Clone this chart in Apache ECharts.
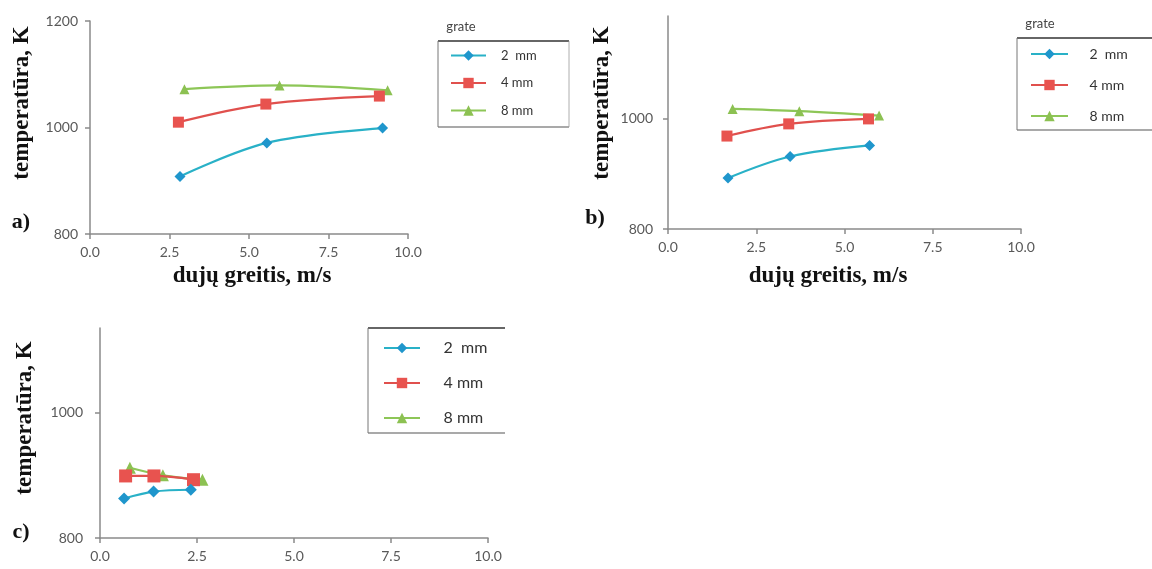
<!DOCTYPE html>
<html>
<head>
<meta charset="utf-8">
<script src="https://cdn.jsdelivr.net/npm/echarts@6/dist/echarts.min.js"></script>
<style>
  html, body { margin: 0; padding: 0; background: #fff; }
  #chart { width: 1152px; height: 569px; }
</style>
</head>
<body>
<div id="chart"></div>
<script>
// grate sizes (legend names)
const grateNames = ['2  mm', '4 mm', '8 mm'];
const xTickLabels = ['0.0', '2.5', '5.0', '7.5', '10.0'];

// panel a)
const aSpeed2 = [2.83, 5.56, 9.2];
const aTemp2 = [908, 971, 999];
const aSpeed4 = [2.78, 5.53, 9.1];
const aTemp4 = [1010, 1044, 1059];
const aSpeed8 = [2.97, 5.96, 9.36];
const aTemp8 = [1072, 1079, 1070];

// panel b)
const bSpeed2 = [1.70, 3.46, 5.71];
const bTemp2 = [892, 931, 951];
const bSpeed4 = [1.67, 3.42, 5.68];
const bTemp4 = [968, 990, 999];
const bSpeed8 = [1.83, 3.72, 5.98];
const bTemp8 = [1017, 1013, 1005];

// panel c)
const cSpeed2 = [0.62, 1.38, 2.34];
const cTemp2 = [863, 874, 877];
const cSpeed4 = [0.66, 1.39, 2.41];
const cTemp4 = [899, 899, 893];
const cSpeed8 = [0.77, 1.62, 2.64];
const cTemp8 = [912, 900, 893];

const pairs = (xs, ys) => xs.map((x, i) => [x, ys[i]]);

const lineColors = ['#29b1c7', '#e0504d', '#8dc657'];
const markColors = ['#1f96cc', '#e8534f', '#8cc152'];
const symbols = ['diamond', 'rect', 'triangle'];
const symbolSizes = [[11, 11, 10], [11, 11, 10], [12, 13, 12]];

const panels = [
  [pairs(aSpeed2, aTemp2), pairs(aSpeed4, aTemp4), pairs(aSpeed8, aTemp8)],
  [pairs(bSpeed2, bTemp2), pairs(bSpeed4, bTemp4), pairs(bSpeed8, bTemp8)],
  [pairs(cSpeed2, cTemp2), pairs(cSpeed4, cTemp4), pairs(cSpeed8, cTemp8)]
];

const axisGray = '#8a8a8a';
const labelGray = '#595959';
const tickFont = 'Lato, "Open Sans", sans-serif';
const serif = '"Liberation Serif", "DejaVu Serif", serif';

function xAxisFor(gridIndex) {
  return {
    type: 'value', gridIndex: gridIndex, min: 0, max: 10, interval: 2.5,
    splitLine: { show: false },
    axisLine: { lineStyle: { color: axisGray, width: 1.5 } },
    axisTick: { length: 5, lineStyle: { color: axisGray, width: 1.5 } },
    axisLabel: {
      margin: 11, color: labelGray, fontSize: 14, fontFamily: tickFont,
      formatter: v => xTickLabels[Math.round(v / 2.5)]
    }
  };
}
function yAxisFor(gridIndex, max, showMax, margin) {
  return {
    type: 'value', gridIndex: gridIndex, min: 800, max: max, interval: 200,
    splitLine: { show: false },
    axisLine: { show: true, lineStyle: { color: axisGray, width: 1.5 } },
    axisTick: { show: true, length: 5, lineStyle: { color: axisGray, width: 1.5 } },
    axisLabel: {
      margin: margin, color: labelGray, fontSize: 14, fontFamily: tickFont,
      showMaxLabel: showMax, formatter: v => String(v)
    }
  };
}

const series = [];
panels.forEach((panel, p) => {
  panel.forEach((data, k) => {
    series.push({
      name: grateNames[k], type: 'line', xAxisIndex: p, yAxisIndex: p,
      data: data, smooth: 0.35, symbol: symbols[k], symbolSize: symbolSizes[p][k],
      lineStyle: { color: lineColors[k], width: 2.2 },
      itemStyle: { color: markColors[k] },
      z: 3 - k
    });
  });
});

function legendFor(left, top, itemWidth, gap, fontSize, pad) {
  return {
    orient: 'vertical', left: left, top: top, padding: 0, itemWidth: itemWidth, itemHeight: 13,
    itemGap: gap, data: grateNames, selectedMode: false,
    textStyle: { fontSize: fontSize, fontFamily: tickFont, color: '#333', padding: [0, 0, 0, pad] }
  };
}

function yTitle(x, y, size) {
  return {
    type: 'text', x: x, y: y, rotation: Math.PI / 2,
    style: { text: 'temperatūra, K', font: 'bold ' + size + 'px ' + serif, fill: '#111',
      textAlign: 'center', textVerticalAlign: 'middle' }
  };
}
function plain(x, y, text, font, fill) {
  return { type: 'text', x: x, y: y,
    style: { text: text, font: font, fill: fill, textAlign: 'center', textVerticalAlign: 'middle' } };
}
function hline(x1, x2, y, color, w) {
  return { type: 'line', shape: { x1: x1, y1: y, x2: x2, y2: y }, style: { stroke: color, lineWidth: w } };
}
function vline(x, y1, y2, color, w) {
  return { type: 'line', shape: { x1: x, y1: y1, x2: x, y2: y2 }, style: { stroke: color, lineWidth: w } };
}

const option = {
  animation: false,
  grid: [
    { left: 90, top: 21, width: 318, height: 213 },
    { left: 668, top: 16, width: 353, height: 213 },
    { left: 100, top: 328, width: 388, height: 210 }
  ],
  xAxis: [xAxisFor(0), xAxisFor(1), xAxisFor(2)],
  yAxis: [yAxisFor(0, 1200, true, 12), yAxisFor(1, 1185, false, 15), yAxisFor(2, 1135, false, 17)],
  legend: [
    legendFor(450, 49, 35, 14.5, 13, 10),
    legendFor(1030, 47, 37, 17, 14, 16.5),
    legendFor(383, 340, 36, 19, 16, 18.5)
  ],
  series: series,
  graphic: [
    yTitle(22, 103, 23),
    yTitle(602, 103, 23),
    yTitle(25, 418, 23),
    plain(252, 276, 'dujų greitis, m/s', 'bold 23px ' + serif, '#111'),
    plain(828, 276, 'dujų greitis, m/s', 'bold 23px ' + serif, '#111'),
    plain(21, 222, 'a)', 'bold 22px ' + serif, '#111'),
    plain(595, 218, 'b)', 'bold 22px ' + serif, '#111'),
    plain(21, 532, 'c)', 'bold 22px ' + serif, '#111'),
    plain(461, 27, 'grate', '13px ' + tickFont, '#444'),
    plain(1040, 24, 'grate', '13px ' + tickFont, '#444'),
    // legend frames
    hline(438, 569, 41, '#333', 1.5),
    hline(438, 569, 127, '#555', 1.2),
    vline(438, 41, 127, '#777', 1),
    vline(569, 41, 127, '#999', 0.8),
    hline(1017, 1152, 38, '#333', 1.5),
    hline(1017, 1152, 130, '#555', 1.2),
    vline(1017, 38, 130, '#777', 1),
    hline(368, 505, 328, '#333', 1.5),
    hline(368, 505, 433, '#555', 1.2),
    vline(368, 328, 433, '#777', 1)
  ]
};

const chart = echarts.init(document.getElementById('chart'));
chart.setOption(option);
</script>
</body>
</html>
